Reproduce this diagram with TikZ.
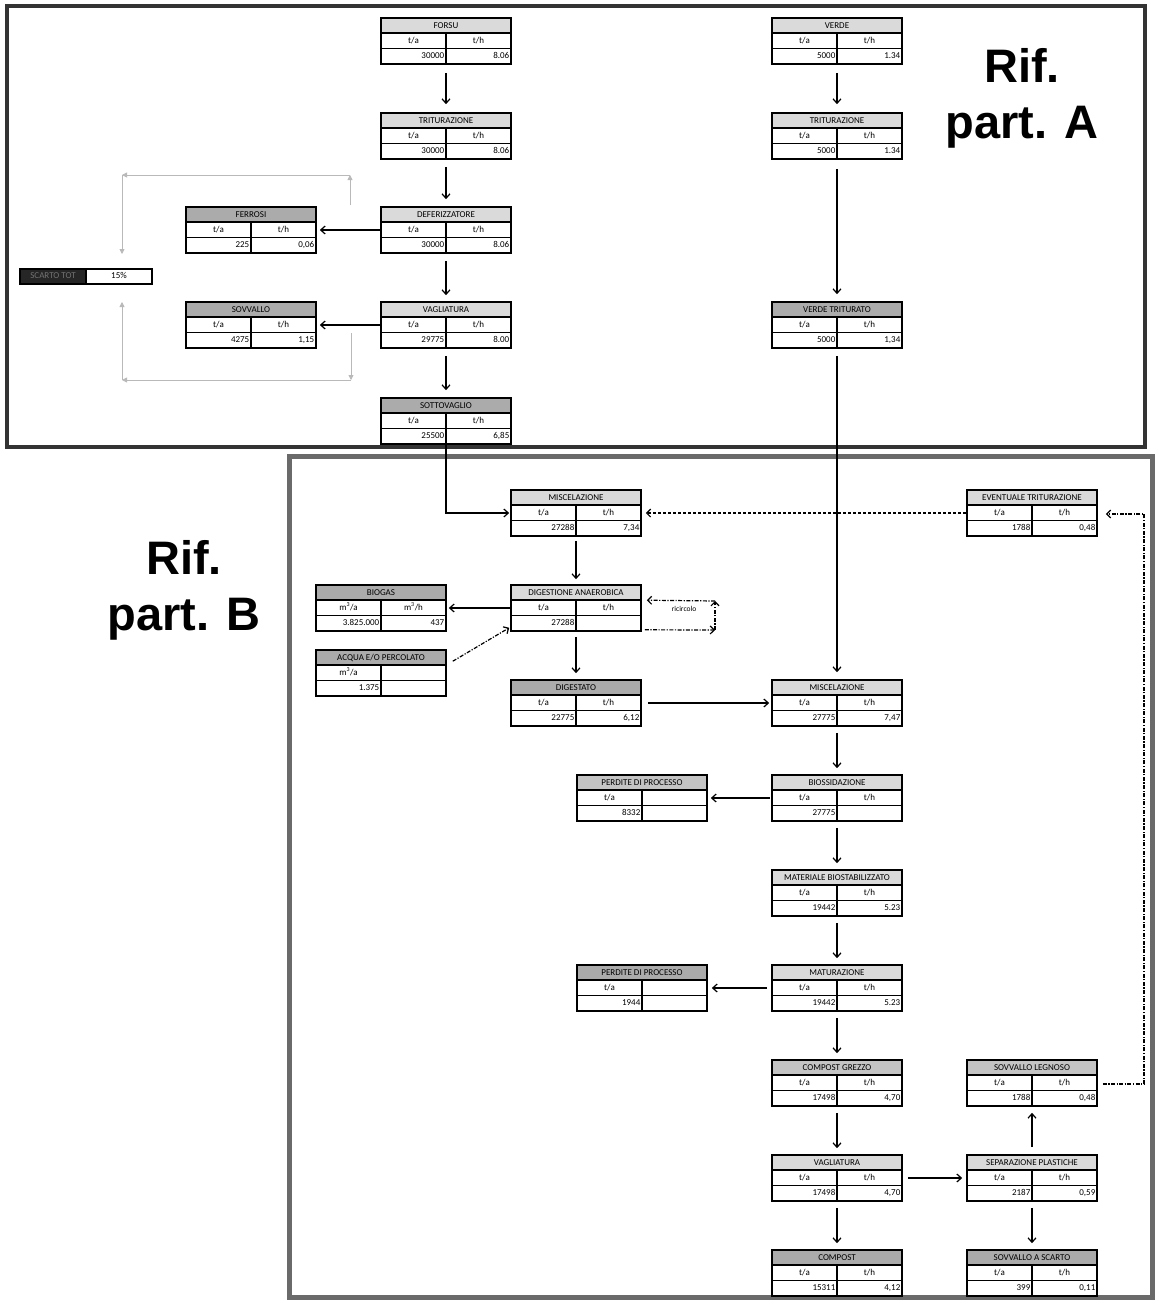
\documentclass[tikz,border=0pt]{standalone}
\usepackage{fontspec}
\setmainfont{Carlito}
\newfontfamily\riffont{Liberation Sans}
\usetikzlibrary{arrows.meta,calc}
\definecolor{hl}{HTML}{DADADA}
\definecolor{hm}{HTML}{C4C4C4}
\definecolor{hd}{HTML}{ABABAB}
\definecolor{frA}{HTML}{333333}
\definecolor{frB}{HTML}{6A6A6A}
\tikzset{
  tline/.style={line width=1.1pt},
  tbox/.style={rectangle,draw,line width=1.6pt,minimum width=130pt,minimum height=46pt,inner sep=0pt},
  ttext/.style={inner sep=0pt,text height=6pt,text depth=1.6pt,font=\fontsize{9}{10}\selectfont},
  arr/.style={line width=1.2pt,-{Straight Barb[length=4.5pt,width=8pt,line width=1.2pt]}},
  dsh/.style={line width=1.1pt,dash pattern=on 3pt off 2pt,-{Straight Barb[length=4pt,width=8pt,line width=1.2pt]}},
  dd/.style={line width=1.2pt,dash pattern=on 4pt off 1.5pt on 1.2pt off 1.5pt,-{Straight Barb[length=4pt,width=8pt,line width=1.2pt]}},
  garr/.style={draw=gray!55,line width=0.8pt,-{Triangle[length=5pt,width=5pt]}},
  riftext/.style={align=center,font=\riffont\bfseries\fontsize{47}{56}\selectfont,inner sep=0pt},
}
% name, cx, top, header, c1, c2, v1, v2, header fill
\newcommand\tbl[9]{%
  \fill[#9] ({#2-65},#3) rectangle ({#2+65},{#3+15});
  \draw[tline] ({#2-65},{#3+15}) -- ({#2+65},{#3+15});
  \draw[tline] ({#2-65},{#3+30.5}) -- ({#2+65},{#3+30.5});
  \draw[tline] (#2,{#3+15}) -- (#2,{#3+46});
  \node[tbox] (#1) at (#2,{#3+23}) {};
  \node[ttext] (#1-h) at (#2,{#3+7.8}) {#4};
  \node[ttext] (#1-c1) at ({#2-32.5},{#3+23}) {#5};
  \node[ttext] (#1-c2) at ({#2+32.5},{#3+23}) {#6};
  \node[ttext,anchor=east] (#1-v1) at ({#2-1.5},{#3+38.6}) {#7};
  \node[ttext,anchor=east] (#1-v2) at ({#2+63.5},{#3+38.6}) {#8};
}
\begin{document}
\begin{tikzpicture}[x=1pt,y=-1pt]
\useasboundingbox[fill=white] (0,0) rectangle (1156,1301);
% frames
\draw[frA,line width=4.5pt] (7,6) rectangle (1145,447);
\draw[frB,line width=5pt] (289,456) rectangle (1152,1297);
% Rif labels
\node[riftext] (rifA) at (1022,98) {Rif.\\part. A};
\node[riftext] (rifB) at (184,590) {Rif.\\part. B};
% part A tables
\tbl{forsu}{446}{18}{FORSU}{t/a}{t/h}{30000}{8.06}{hl}
\tbl{tritA}{446}{113}{TRITURAZIONE}{t/a}{t/h}{30000}{8.06}{hl}
\tbl{defer}{446}{207}{DEFERIZZATORE}{t/a}{t/h}{30000}{8.06}{hl}
\tbl{vagA}{446}{302}{VAGLIATURA}{t/a}{t/h}{29775}{8.00}{hl}
\tbl{sotto}{446}{398}{SOTTOVAGLIO}{t/a}{t/h}{25500}{6,85}{hd}
\tbl{ferrosi}{251}{207}{FERROSI}{t/a}{t/h}{225}{0,06}{hd}
\tbl{sovvA}{251}{302}{SOVVALLO}{t/a}{t/h}{4275}{1,15}{hd}
\tbl{verde}{837}{18}{VERDE}{t/a}{t/h}{5000}{1.34}{hl}
\tbl{tritV}{837}{113}{TRITURAZIONE}{t/a}{t/h}{5000}{1.34}{hl}
\tbl{verdetr}{837}{302}{VERDE TRITURATO}{t/a}{t/h}{5000}{1,34}{hd}
% scarto box
\fill[black!85] (20,269) rectangle (86,284);
\node[draw,line width=1.2pt,minimum width=132pt,minimum height=15pt,inner sep=0pt] (scarto) at (86,276.5) {};
\draw[line width=1.1pt] (86,269) -- (86,284);
\node[ttext,text=black!55] (scartoL) at (53,276.5) {SCARTO TOT};
\node[ttext] (scartoR) at (119,276.5) {15\%};
% part B tables
\tbl{misc1}{576}{490}{MISCELAZIONE}{t/a}{t/h}{27288}{7,34}{hl}
\tbl{evtrit}{1032}{490}{EVENTUALE TRITURAZIONE}{t/a}{t/h}{1788}{0,48}{hl}
\tbl{dig}{576}{585}{DIGESTIONE ANAEROBICA}{t/a}{t/h}{27288}{}{hl}
\tbl{biogas}{381}{585}{BIOGAS}{m\textsuperscript{3}/a}{m\textsuperscript{3}/h}{3.825.000}{437}{hd}
\tbl{acqua}{381}{650}{ACQUA E/O PERCOLATO}{m\textsuperscript{3}/a}{}{1.375}{}{hd}
\tbl{digest}{576}{680}{DIGESTATO}{t/a}{t/h}{22775}{6,12}{hd}
\tbl{misc2}{837}{680}{MISCELAZIONE}{t/a}{t/h}{27775}{7,47}{hl}
\tbl{bioss}{837}{775}{BIOSSIDAZIONE}{t/a}{t/h}{27775}{}{hl}
\tbl{perd1}{642}{775}{PERDITE DI PROCESSO}{t/a}{}{8332}{}{hm}
\tbl{matbio}{837}{870}{MATERIALE BIOSTABILIZZATO}{t/a}{t/h}{19442}{5.23}{hl}
\tbl{matur}{837}{965}{MATURAZIONE}{t/a}{t/h}{19442}{5.23}{hl}
\tbl{perd2}{642}{965}{PERDITE DI PROCESSO}{t/a}{}{1944}{}{hd}
\tbl{cgrezzo}{837}{1060}{COMPOST GREZZO}{t/a}{t/h}{17498}{4,70}{hm}
\tbl{sovleg}{1032}{1060}{SOVVALLO LEGNOSO}{t/a}{t/h}{1788}{0,48}{hm}
\tbl{vagB}{837}{1155}{VAGLIATURA}{t/a}{t/h}{17498}{4,70}{hl}
\tbl{sepp}{1032}{1155}{SEPARAZIONE PLASTICHE}{t/a}{t/h}{2187}{0,59}{hl}
\tbl{compost}{837}{1250}{COMPOST}{t/a}{t/h}{15311}{4,12}{hd}
\tbl{sovsc}{1032}{1250}{SOVVALLO A SCARTO}{t/a}{t/h}{399}{0,11}{hd}
% grey loop arrows (part A)
\coordinate (g1) at (350,205);
\coordinate (g2) at (350,175);
\coordinate (g3) at (122,175);
\coordinate (g4) at (122,254);
\coordinate (h1) at (351,333);
\coordinate (h2) at (351,380);
\coordinate (h3) at (122,380);
\coordinate (h4) at (122,302);
\draw[garr] (g1) -- (g2);
\draw[garr] (g2) -- (g3);
\draw[garr] (g3) -- (g4);
\draw[garr] (h1) -- (h2);
\draw[garr] (h2) -- (h3);
\draw[garr] (h3) -- (h4);
% part A arrows
\draw[arr,shorten <=8pt,shorten >=8pt] (forsu) -- (tritA);
\draw[arr,shorten <=7pt,shorten >=7pt] (tritA) -- (defer);
\draw[arr,shorten <=7pt,shorten >=6pt] (defer) -- (vagA);
\draw[arr,shorten <=7pt,shorten >=7pt] (vagA) -- (sotto);
\draw[arr,shorten >=3pt] (defer) -- (ferrosi);
\draw[arr,shorten >=3pt] (vagA) -- (sovvA);
\draw[arr,shorten <=8pt,shorten >=8pt] (verde) -- (tritV);
\draw[arr,shorten <=9pt,shorten >=7pt] (tritV) -- (verdetr);
\draw[arr,shorten <=7pt,shorten >=7pt] (verdetr) -- (misc2);
\draw[arr,shorten >=1pt] (sotto.south) |- (misc1.west);
% part B arrows
\draw[dsh,shorten >=4pt] (evtrit) -- (misc1);
\coordinate (rc1) at (1144,1084);
\coordinate (rc2) at (1144,514);
\draw[dd,shorten <=5pt,shorten >=8pt] (sovleg.east |- rc1) -- (rc1) -- (rc2) -- (evtrit.east |- rc2);
\draw[arr,shorten <=4pt,shorten >=5pt] (misc1) -- (dig);
\draw[arr,shorten >=2pt] (dig) -- (biogas);
\draw[dd] ([shift={(6,12)}]acqua.north east) -- ([shift={(-1,-4)}]dig.south west);
\coordinate (r1) at (715,630);
\coordinate (r2) at (715,601);
\draw[dd] ([shift={(3,-2)}]dig.south east) -- (r1);
\draw[dd] (r1) -- (r2);
\draw[dd] (r2) -- ([shift={(5,16)}]dig.north east);
\node[ttext,font=\fontsize{7.5}{8}\selectfont] (ricircolo) at (684,609) {ricircolo};
\draw[arr,shorten <=5pt,shorten >=6pt] (dig) -- (digest);
\draw[arr,shorten <=6pt,shorten >=2pt] (digest) -- (misc2);
\draw[arr,shorten <=6pt,shorten >=6pt] (misc2) -- (bioss);
\draw[arr,shorten <=1pt,shorten >=3pt] (bioss) -- (perd1);
\draw[arr,shorten <=6pt,shorten >=6pt] (bioss) -- (matbio);
\draw[arr,shorten <=6pt,shorten >=6pt] (matbio) -- (matur);
\draw[arr,shorten <=4pt,shorten >=4pt] (matur) -- (perd2);
\draw[arr,shorten <=6pt,shorten >=6pt] (matur) -- (cgrezzo);
\draw[arr,shorten <=6pt,shorten >=6pt] (cgrezzo) -- (vagB);
\draw[arr,shorten <=6pt,shorten >=6pt] (vagB) -- (compost);
\draw[arr,shorten <=5pt,shorten >=4pt] (vagB) -- (sepp);
\draw[arr,shorten <=7pt,shorten >=6pt] (sepp) -- (sovleg);
\draw[arr,shorten <=6pt,shorten >=6pt] (sepp) -- (sovsc);
\end{tikzpicture}
\end{document}
